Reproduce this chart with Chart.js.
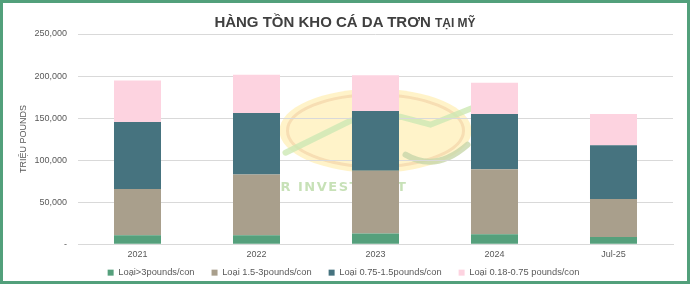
<!DOCTYPE html>
<html>
<head>
<meta charset="utf-8">
<script src="https://cdn.jsdelivr.net/npm/chart.js@4"></script>
<style>
  html, body { margin: 0; padding: 0; background: #fff; }
  #khung {
    position: relative;
    width: 690px; height: 284px;
    box-sizing: border-box;
    border: 3px solid #52a07b;
    background: #fff;
  }
  #tieuDe {
    position: absolute; left: 0; right: 0; top: 10px;
    text-align: center;
    font-family: "Liberation Sans", Arial, sans-serif;
    font-weight: bold; color: #404040;
    font-size: 15px;
  }
  #tieuDe span { font-size: 12px; }
  canvas { display: block; }
</style>
</head>
<body>
<div id="khung">
  <canvas id="grafico" width="684" height="278"></canvas>
  <div id="tieuDe">HÀNG TỒN KHO CÁ DA TRƠN <span>TẠI MỸ</span></div>
</div>
<script>
// Dữ liệu (nghìn pounds)
var nhan = ['2021', '2022', '2023', '2024', 'Jul-25'];
var loaiTren3 = [10700, 10700, 12700, 11800, 8700];
var loai15den3 = [55000, 72200, 74600, 77400, 45000];
var loai075den15 = [79500, 73100, 71100, 65800, 64000];
var loai018den075 = [49500, 45400, 42600, 37000, 37200];
var tenSeries = ['Loại>3pounds/con', 'Loại 1.5-3pounds/con', 'Loại 0.75-1.5pounds/con', 'Loại 0.18-0.75 pounds/con'];
var mauSeries = ['#55a07c', '#a99f8c', '#46737f', '#fdd3e0'];

var chuFont = '"Liberation Sans", Arial, sans-serif';

// Tạo dataset
var duLieu = [loaiTren3, loai15den3, loai075den15, loai018den075];
var datasets = duLieu.map(function (d, i) {
    return {
        label: tenSeries[i],
        data: d,
        backgroundColor: mauSeries[i],
        borderWidth: 0,
        barPercentage: 0.395,
        categoryPercentage: 1
    };
});

// Logo mờ phía sau biểu đồ
var logoMo = {
    id: 'logoMo',
    beforeDraw: function (chart) {
        var c = chart.ctx;
        var cx = chart.scales.x.getPixelForValue(2);
        var cy = chart.scales.y.getPixelForValue(135000);
        c.save();
        c.fillStyle = 'rgba(255, 238, 178, 0.7)';
        c.strokeStyle = 'rgba(244, 212, 170, 0.7)';
        c.lineWidth = 3;
        c.beginPath();
        c.ellipse(cx, cy, 96, 42, 0, 0, Math.PI * 2);
        c.fill();
        c.beginPath();
        c.ellipse(cx, cy, 88, 36, 0, 0, Math.PI * 2);
        c.stroke();
        // mũi tên xanh
        c.strokeStyle = 'rgba(205, 232, 180, 0.8)';
        c.lineWidth = 6;
        c.lineCap = 'round';
        c.beginPath();
        c.moveTo(cx - 90, cy + 22);
        c.lineTo(cx - 25, cy - 10);
        c.lineTo(cx + 25, cy - 14);
        c.lineTo(cx + 55, cy - 6);
        c.lineTo(cx + 95, cy - 22);
        c.stroke();
        c.strokeStyle = 'rgba(200, 215, 170, 0.8)';
        c.beginPath();
        c.moveTo(cx + 30, cy + 24);
        c.quadraticCurveTo(cx + 60, cy + 42, cx + 92, cy + 14);
        c.stroke();
        c.fillStyle = 'rgba(185, 218, 165, 0.8)';
        c.font = 'bold 13px "DejaVu Sans", sans-serif';
        c.textBaseline = 'middle';
        if ('letterSpacing' in c) c.letterSpacing = '1.5px';
        c.fillText('R INVESTMENT', cx - 95, cy + 57);
        c.restore();
    }
};

// Chú thích: giữ khoảng cách ngang rộng nhưng thu gọn chiều cao
var chinhChuThich = {
    id: 'chinhChuThich',
    beforeLayout: function (chart) {
        var lg = chart.legend;
        if (!lg || lg._daChinh) return;
        var fitGoc = lg.fit;
        lg.fit = function () {
            fitGoc.call(this);
            this.height = 16;
        };
        var drawGoc = lg._draw;
        lg._draw = function () {
            var t = this.top;
            this.top = t - 14;
            drawGoc.call(this);
            this.top = t;
        };
        lg._daChinh = true;
    }
};

var ctx = document.getElementById('grafico').getContext('2d');
new Chart(ctx, {
    type: 'bar',
    data: { labels: nhan, datasets: datasets },
    plugins: [logoMo, chinhChuThich],
    options: {
        responsive: false,
        animation: false,
        layout: { padding: { top: 31, right: 14, left: 11, bottom: 0 } },
        plugins: {
            legend: {
                position: 'bottom',
                labels: {
                    boxWidth: 6, boxHeight: 6,
                    padding: 17,
                    color: '#595959',
                    font: { family: chuFont, size: 9.3 }
                }
            },
            tooltip: { enabled: false }
        },
        scales: {
            x: {
                stacked: true,
                grid: { display: false, drawTicks: false },
                border: { color: '#d9d9d9' },
                ticks: { color: '#595959', font: { family: chuFont, size: 9 }, padding: 5 }
            },
            y: {
                stacked: true,
                min: 0, max: 250000,
                afterFit: function (scale) { scale.width = 64; },
                ticks: {
                    stepSize: 50000,
                    color: '#595959',
                    padding: 11,
                    font: { family: chuFont, size: 9 },
                    callback: function (v) { return v === 0 ? '-' : v.toLocaleString('en-US'); }
                },
                grid: { color: '#d9d9d9', drawTicks: false },
                border: { display: false },
                title: {
                    display: true,
                    text: 'TRIỆU POUNDS',
                    color: '#595959',
                    padding: { top: 4, bottom: 0 },
                    font: { family: chuFont, size: 9 }
                }
            }
        }
    }
});
</script>
</body>
</html>
